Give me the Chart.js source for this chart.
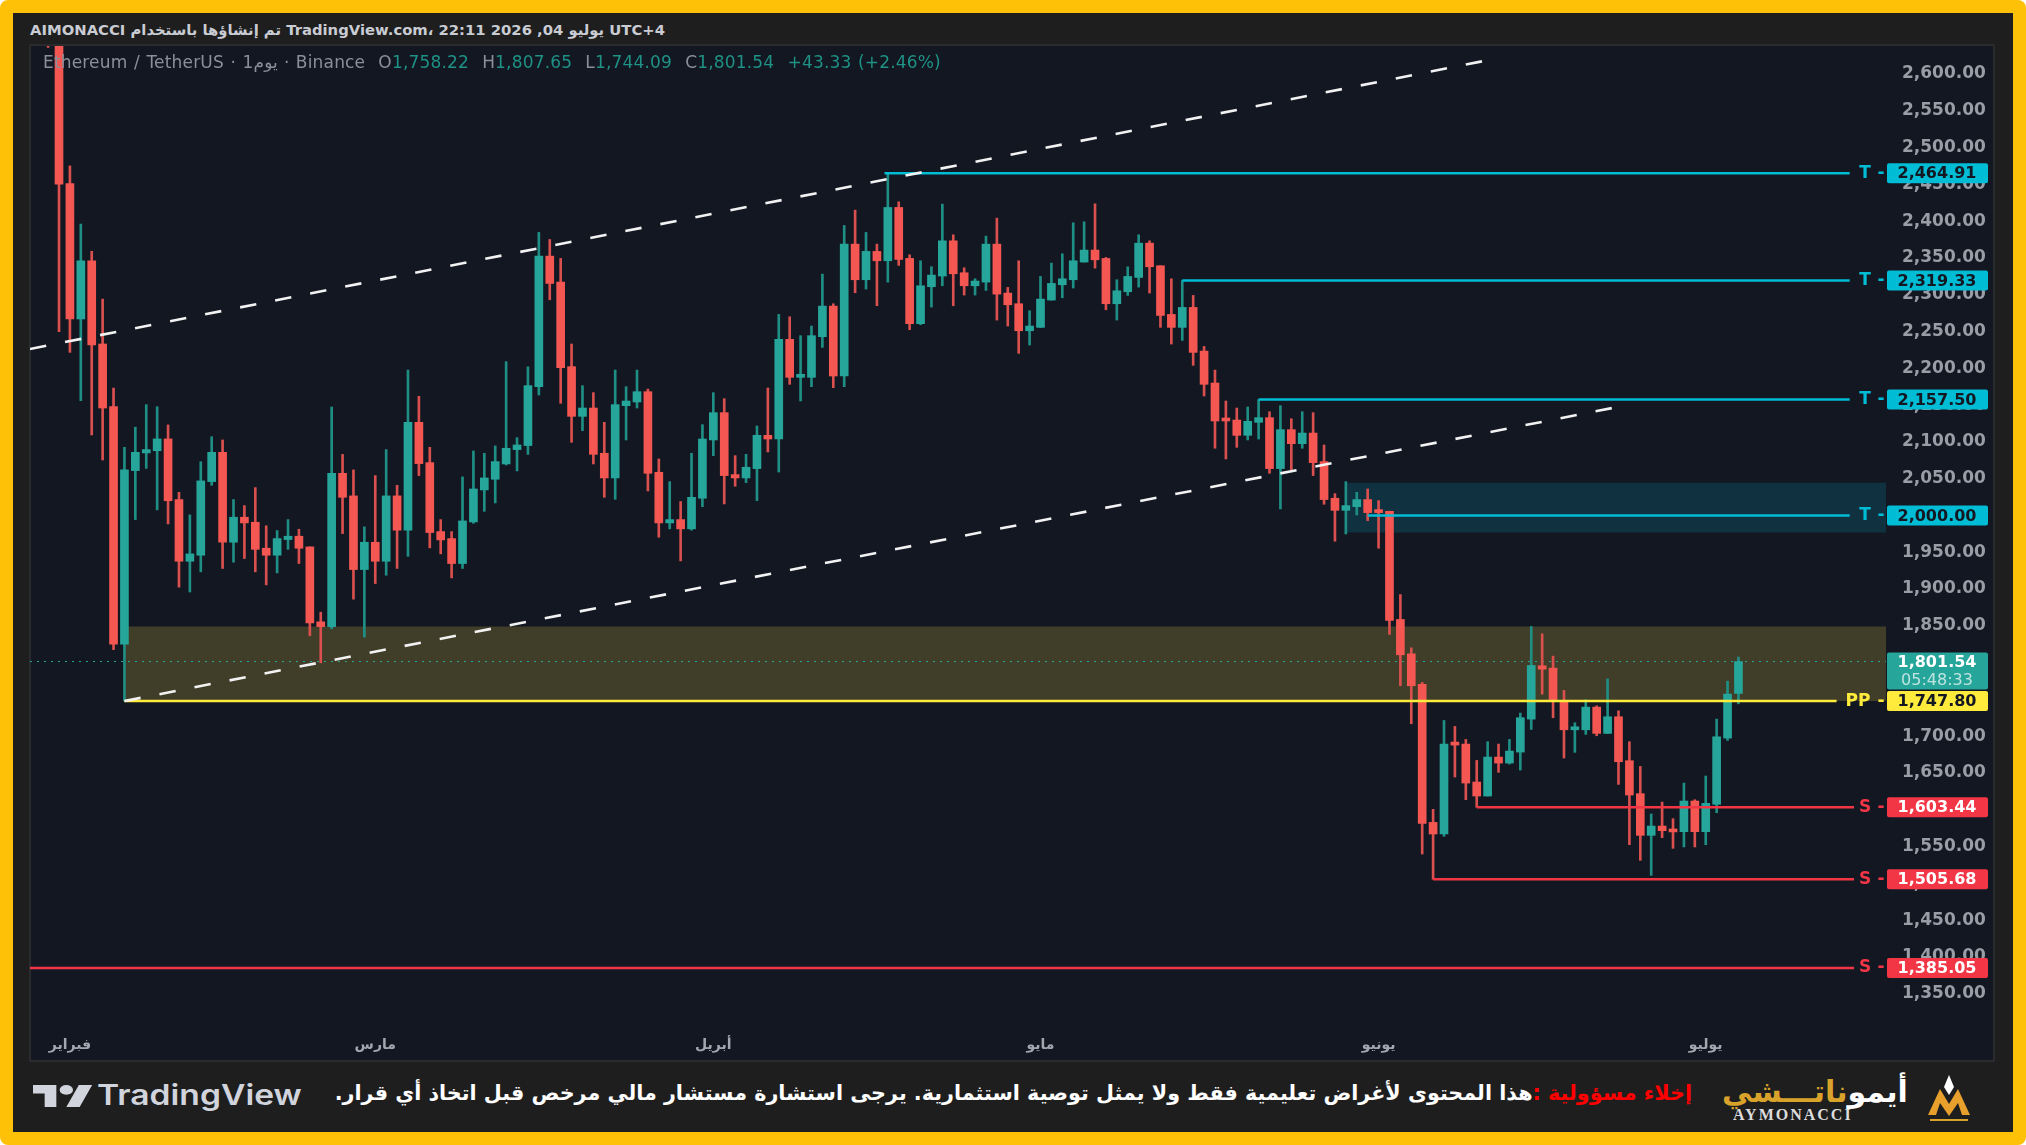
<!DOCTYPE html>
<html>
<head>
<meta charset="utf-8">
<script src="https://cdn.jsdelivr.net/npm/chart.js@4/dist/chart.umd.min.js"></script>
<style>
  html, body { margin: 0; padding: 0; background: #fff; }
  #frame { position: absolute; left: 0; top: 0; width: 2026px; height: 1145px; box-sizing: border-box; background: #1e1e1e; border: 13px solid #ffc107; border-radius: 8px; overflow: hidden; }
  #page { position: absolute; left: 0; top: 0; width: 2026px; height: 1145px; font-family: "DejaVu Sans", sans-serif; overflow: hidden; }
  #panel { position: absolute; left: 29px; top: 44px; width: 1966px; height: 1018px; box-sizing: border-box; background: #121722; border: 2px solid #2a2b2d; }
  canvas { position: absolute; left: 30px; top: 46px; }
  .txt { position: absolute; white-space: nowrap; }
  #head { left: 30px; top: 21px; font-size: 14.8px; font-weight: bold; color: #c9ccd3; }
  #legend { left: 43px; top: 52px; font-size: 17px; letter-spacing: 0.17px; color: #8b8f9a; word-spacing: 1px; }
  #legend b { font-weight: normal; color: #1f9185; }
  #tvtext { left: 97px; top: 1078px; font-family: Inter, sans-serif; font-size: 28px; font-weight: 600; color: #d1d4dc; transform: scaleX(1.2); transform-origin: left center; }
  #note { right: 334px; top: 1081px; direction: rtl; font-size: 20.7px; font-weight: bold; color: #fff; }
  #note span { color: #f00; }
  #brand { left: 1722px; top: 1074px; direction: rtl; font-size: 30px; font-weight: bold; color: #fff; }
  #brand span { color: #d9a22b; }
  #brand2 { left: 1733px; top: 1106px; font-family: "Liberation Serif", serif; font-size: 16px; font-weight: bold; color: #ddd; letter-spacing: 2px; }
</style>
</head>
<body>
<div id="frame"></div>
<div id="page">
  <div id="panel"></div>
  <canvas id="chart" width="1965" height="1015"></canvas>
  <div class="txt" id="head">AIMONACCI تم إنشاؤها باستخدام TradingView.com، 22:11 2026 ,04 يوليو UTC+4</div>
  <div class="txt" id="legend">Ethereum / TetherUS · 1يوم · Binance &nbsp;O<b>1,758.22</b> &nbsp;H<b>1,807.65</b> &nbsp;L<b>1,744.09</b> &nbsp;C<b>1,801.54</b> &nbsp;<b>+43.33 (+2.46%)</b></div>
  <svg style="position:absolute;left:33px;top:1085px" width="60" height="22" viewBox="0 4 36 18" preserveAspectRatio="none"><path fill="#d1d4dc" d="M14 22H7V11H0V4h14v18zM28 22h-8l7.5-18h8L28 22z"/><circle fill="#d1d4dc" cx="20" cy="8" r="4"/></svg>
  <div class="txt" id="tvtext">TradingView</div>
  <div class="txt" id="note"><span>إخلاء مسؤولية :</span>هذا المحتوى لأغراض تعليمية فقط ولا يمثل توصية استثمارية. يرجى استشارة مستشار مالي مرخص قبل اتخاذ أي قرار.</div>
  <div class="txt" id="brand">أيمو<span>ناتـــشي</span></div>
  <div class="txt" id="brand2">AYMONACCI</div>
  <svg style="position:absolute;left:1926px;top:1075px" width="46" height="48" viewBox="0 0 46 48"><path fill="#fff" d="M23 0l5 12-5 8-5-8z"/><path fill="#e8a02c" d="M2 40L14 14l9 15 9-15 12 26h-8l-4-12-9 13-9-13-4 12z"/><rect x="4" y="44" width="38" height="2" fill="#d9a22b"/></svg>
</div>
<script>
// daily candles, first one is just off the top of the chart
const opens = [2760,2690,2451,2267,2346,2233,2147.8,1825,2061,2085,2088,2104,2021.6,1937.8,1946,2046,2085.8,1963.6,1997.6,1990.8,
  1955.5,1946,1967.3,1971.8,1957.3,1855.5,1849,2057.3,2026.6,1926.5,1963.6,1937.8,2026.6,1980,2126.6,2071.8,1978.1,1968.6,1934.7,1991.2,
  2034.7,2049.2,2070,2089.5,2095,2175,2352.4,2317.1,2202.2,2134.7,2146,2084.5,2051,2149.2,2154.2,2168.2,2058.7,1989.9,1994.4,1981.8,
  2023.4,2102.6,2139.7,2055.5,2051,2063.7,2108.9,2103.9,2239.3,2187.7,2187.7,2242.9,2284.5,2189.5,2368.7,2320.3,2358.8,2346.1,2418.5,2349.3,
  2260.6,2310.8,2325.3,2373.2,2329.8,2312.1,2317.1,2368.7,2302.2,2287.7,2251,2255.6,2292.7,2313.5,2320.3,2344.3,2360.6,2349.2,2287.7,2304,
  2323.4,2370,2339.3,2273.2,2255.6,2282.7,2223.4,2180,2129.7,2129.7,2108.9,2126.6,2132.9,2063.7,2116.6,2097.6,2112,2073.2,2023.4,2007,
  2012,2021.6,2005.7,2005.8,1858.7,1812,1770.4,1583,1567.2,1689.9,1689.4,1637.8,1618.8,1671.7,1663.6,1678.5,1723.3,1795.8,1792.6,1748.7,
  1708.8,1708.8,1739.6,1703.9,1726.5,1666.8,1622,1565.4,1578,1573.5,1570.4,1612,1570.4,1607.5,1697.5,1758.22];
const highs = [2775,2700,2475,2396,2359,2294,2173,2092.6,2120,2150.6,2147.8,2123,2031.5,2000.8,2073,2107,2102.6,2021.6,2013.4,2037.9,
  1986,1979.5,1994.4,1981.3,1957.3,1868.6,2147.4,2083,2061.9,1984.5,2054.2,2089.5,2041,2197.6,2161.9,2092.6,1994.4,1978.1,2052.4,2087.6,
  2084.5,2094.5,2209,2105.8,2202,2384.6,2375,2349.3,2233,2176.4,2166.9,2126.6,2197.6,2175,2197.6,2171.8,2076.8,2046,2018.9,2084.5,
  2123.4,2166.9,2158.7,2081.3,2083.1,2121.6,2173.2,2273.2,2270,2244.3,2257.4,2328,2287.7,2394,2414.9,2384.6,2368.7,2464.91,2426.2,2354.2,
  2346.1,2338,2423,2381.4,2336.6,2321.7,2379.6,2404,2309.9,2346.1,2278.2,2324.8,2342.9,2355.6,2397.7,2399,2423.5,2350.6,2320.3,2337.9,
  2381.4,2373.2,2339.3,2321.6,2319.33,2299,2229.7,2197.6,2155.5,2146,2147.4,2157.5,2141,2149.2,2131.5,2141,2139.7,2095.8,2029.7,2046,
  2031.5,2036,2020.2,2005.8,1892.6,1820.2,1773.1,1600.7,1721.5,1713.4,1695.7,1667.2,1692.6,1689.4,1695.7,1731.5,1849.2,1839.2,1808.9,1762.3,
  1718.4,1749.6,1741.4,1778.1,1734.6,1692.6,1659,1594.4,1610.6,1588,1636.4,1613.8,1646,1723.3,1774.9,1807.65];
const lows = [2636,2249.7,2221.6,2156,2109.4,2075.4,1817.5,1748,1994.4,2064,2007.6,1988.5,1902.6,1896,1923.4,2041,1928,1936.5,1941.5,1923.4,
  1905.7,1922,1954,1934.7,1836.5,1799.8,1846,1975.4,1886.3,1834.7,1907.5,1918.8,1928,1944.6,2054.2,1956,1947.8,1915.2,1928,1989.4,
  2005.7,2017,2068.6,2060.5,2083,2163.7,2293.1,2152.4,2099.4,2115.3,2070,2024.7,2022,2102.6,2146,2033.3,1970.4,1981.8,1938.3,1980,
  2012,2081.3,2015.7,2039.7,2044.7,2020.2,2086.3,2059,2178.2,2155.5,2175,2228.4,2173.6,2175,2302.6,2307.6,2285,2317,2339.8,2252.4,
  2259.2,2283.2,2312.1,2285,2299.5,2299.5,2305.8,2265.5,2257.4,2220.3,2231.6,2255.6,2292.7,2295.8,2309,2344.3,2336.1,2279.5,2265.5,2299,
  2310.3,2302.2,2255.6,2232.9,2237.9,2204,2162.3,2091.3,2076.8,2092.6,2102.6,2103.9,2057.3,2008.9,2062.3,2091.3,2054.2,2015.2,1965,1974.9,
  2000.7,1993,1955.5,1838.3,1768.6,1717,1540,1505.68,1564,1644.6,1613.8,1603.44,1618.8,1651,1662.2,1654.1,1709.3,1757.3,1725.2,1670.4,
  1678.1,1702.5,1700.7,1703.9,1634.6,1552.7,1531.4,1511,1562.2,1547.7,1549.6,1549.6,1552.7,1596.2,1694.4,1744.09];
const closes = [2690,2450,2267,2346,2231.6,2146,1825,2061.9,2085.8,2089.5,2104,2020,1937.8,1947.8,2047,2085.8,1963.6,1997.6,1989.9,1954,
  1946,1968.6,1971.8,1955.5,1854,1849,2057.3,2024.7,1926.5,1963.6,1937.8,2026.6,1980,2126.6,2070.5,1976.8,1966.8,1934.7,1992.6,2036,
  2051,2073.2,2091.3,2095.8,2176.4,2352.4,2315.3,2200.8,2134.7,2146,2083.1,2051,2150.6,2155.5,2168.2,2057.3,1989.9,1994.4,1981.8,2024.7,
  2103.9,2139.7,2054.2,2051,2065.5,2108.9,2103.9,2239.3,2187.7,2189.5,2244.3,2284.5,2189.5,2368.7,2320.3,2358.8,2346.1,2418.5,2347.9,2260.6,
  2312.1,2326.6,2373.2,2328.4,2312.1,2318.5,2368.7,2300.8,2286.3,2251,2257.4,2294,2315.3,2321.6,2346.1,2360.6,2347.4,2287.7,2305.3,2324.8,
  2370,2337.9,2271.8,2255.6,2282.7,2221.6,2178.2,2128.4,2128.4,2108.9,2127.9,2132.9,2063.7,2116.6,2097.6,2112,2071.8,2021.6,2007,2013.4,
  2021.6,2003.9,2003.9,1857.3,1810.7,1768.6,1581.7,1567.2,1689.4,1688,1636.4,1618.8,1671.7,1663.6,1679.9,1725.2,1796.2,1791.2,1747.3,1708.8,
  1710.7,1739.6,1703.9,1726.5,1665.4,1620.2,1565.4,1578,1571.7,1570,1612,1570.4,1608.8,1699.3,1757.3,1801.54];

const priceTicks = [1350,1400,1450,1500,1550,1600,1650,1700,1750,1800,1850,1900,1950,2000,2050,2100,2150,2200,2250,2300,2350,2400,2450,2500,2550,2600];
const monthPos = [2, 30, 61, 91, 122, 152];
const monthLabels = ["فبراير", "مارس", "أبريل", "مايو", "يونيو", "يوليو"];

// horizontal levels drawn on the chart
const levelValues = [2464.91, 2319.33, 2157.50, 2000.00, 1747.80, 1603.44, 1505.68, 1385.05];
const levelStarts = [76.7, 104, 111, 121, 7, 131, 127, -1.66];
const levelEnds = [165.2, 165.2, 165.2, 165.2, 164, 165.6, 165.6, 165.6];
const levelLetters = ["T", "T", "T", "T", "PP", "S", "S", "S"];
const lastClose = 1801.54;
const lastCountdown = "05:48:33";

// channel lines [x, price]
const channelUpper = [[-1.66, 2226.2], [133.05, 2621.6]];
const channelLower = [[7, 1747.8], [143.9, 2147.4]];

// shaded zones [x start, price top, price bottom]
const zoneOlive = [7, 1849, 1747.8];
const zoneTeal = [119, 2044.6, 1977];

const xMin = -1.66, xMax = 168.53, yMin = 1310.4, yMax = 2637.9;

const UP = "#26a69a", DOWN = "#f45752";
const UP_WICK = "#1f8f85", DOWN_WICK = "#d9504e";
const LEVEL_COLORS = { T: "#00bcd4", PP: "#ffeb3b", S: "#f23645" };
const LEVEL_TEXT = { T: "#131722", PP: "#131722", S: "#ffffff" };
const TICK_FONT = { family: "DejaVu Sans", size: 17, weight: "bold" };

const isUp = closes.map((c, i) => c >= opens[i]);

function zone(z, color) {
  return {
    type: "line", order: 6, data: [{ x: z[0], y: z[1] }, { x: xMax, y: z[1] }],
    borderWidth: 0, pointRadius: 0, backgroundColor: color, fill: { value: z[2] }
  };
}
function dashed(pts) {
  return {
    type: "line", order: 1, data: pts.map(p => ({ x: p[0], y: p[1] })),
    borderColor: "#f2f2f2", borderWidth: 2.6, borderDash: [16.5, 19.2], pointRadius: 0, fill: false
  };
}

const levelSets = levelValues.map((v, i) => ({
  type: "line", order: 1,
  data: [{ x: levelStarts[i], y: v }, { x: levelEnds[i], y: v }],
  borderColor: LEVEL_COLORS[levelLetters[i]], borderWidth: 2.5, pointRadius: 0, fill: false
}));

// letters and coloured price tags on the axis
const tagsPlugin = {
  id: "tags",
  afterDraw(chart) {
    const { ctx, chartArea, scales } = chart;
    const right = chartArea.right;
    ctx.save();
    ctx.textBaseline = "middle";
    const yLast = scales.y.getPixelForValue(lastClose);
    ctx.fillStyle = UP;
    ctx.beginPath();
    ctx.roundRect(right + 1, yLast - 9, 101, 37, 2);
    ctx.fill();
    ctx.font = "bold 16px 'DejaVu Sans'";
    ctx.textAlign = "center";
    ctx.fillStyle = "#fff";
    ctx.fillText(lastClose.toLocaleString("en-US", { minimumFractionDigits: 2 }), right + 51, yLast + 1);
    ctx.fillStyle = "#bfe3df";
    ctx.font = "16px 'DejaVu Sans'";
    ctx.fillText(lastCountdown, right + 51, yLast + 19);

    levelValues.forEach((v, i) => {
      const y = scales.y.getPixelForValue(v);
      const l = levelLetters[i];
      ctx.fillStyle = LEVEL_COLORS[l];
      ctx.beginPath();
      ctx.roundRect(right + 1, y - 10, 101, 20, 2);
      ctx.fill();
      ctx.font = "bold 16px 'DejaVu Sans'";
      ctx.textAlign = "center";
      ctx.fillStyle = LEVEL_TEXT[l];
      ctx.fillText(v.toLocaleString("en-US", { minimumFractionDigits: 2 }), right + 51, y + 1);
      ctx.fillStyle = LEVEL_COLORS[l];
      ctx.font = "bold 17px 'DejaVu Sans'";
      ctx.fillText(l, right - (l === "PP" ? 28 : 21), y);
      ctx.fillText("-", right - 5, y);
    });
    ctx.restore();
  }
};

new Chart(document.getElementById("chart"), {
  type: "bar",
  data: {
    datasets: [
      zone(zoneOlive, "#403e28"),
      zone(zoneTeal, "#103240"),
      {
        type: "line", order: 5, data: [{ x: xMin, y: lastClose }, { x: xMax, y: lastClose }],
        borderColor: UP, borderWidth: 1, borderDash: [2, 5], pointRadius: 0, fill: false
      },
      {
        order: 3, grouped: false, barThickness: 2,
        data: highs.map((h, i) => ({ x: i, y: [lows[i], h] })),
        backgroundColor: isUp.map(u => u ? UP_WICK : DOWN_WICK)
      },
      {
        order: 2, grouped: false, barThickness: 8, minBarLength: 3,
        data: opens.map((o, i) => ({ x: i, y: [o, closes[i]] })),
        backgroundColor: isUp.map(u => u ? UP : DOWN)
      },
      dashed(channelUpper),
      dashed(channelLower),
      ...levelSets
    ]
  },
  options: {
    responsive: false,
    animation: false,
    devicePixelRatio: 1,
    layout: { padding: 0 },
    plugins: { legend: { display: false }, tooltip: { enabled: false } },
    scales: {
      x: {
        type: "linear", min: xMin, max: xMax, offset: false,
        grid: { display: false }, border: { display: false },
        afterBuildTicks(s) { s.ticks = monthPos.map(v => ({ value: v })); },
        afterFit(s) { s.height = 38; s.paddingLeft = 0; s.paddingRight = 0; },
        ticks: {
          autoSkip: false, maxRotation: 0, padding: 6, color: "#a4a7af",
          font: { family: "DejaVu Sans", size: 14, weight: "bold" },
          callback: v => monthLabels[monthPos.indexOf(v)]
        }
      },
      y: {
        type: "linear", position: "right", min: yMin, max: yMax,
        grid: { display: false, drawTicks: false }, border: { display: false },
        afterBuildTicks(s) { s.ticks = priceTicks.map(v => ({ value: v })); },
        afterFit(s) { s.width = 109; s.paddingTop = 0; s.paddingBottom = 0; },
        ticks: {
          autoSkip: false, padding: 16, color: "#9a9da5", font: TICK_FONT,
          callback: v => v.toLocaleString("en-US", { minimumFractionDigits: 2, maximumFractionDigits: 2 })
        }
      }
    }
  },
  plugins: [tagsPlugin]
});
</script>
</body>
</html>
